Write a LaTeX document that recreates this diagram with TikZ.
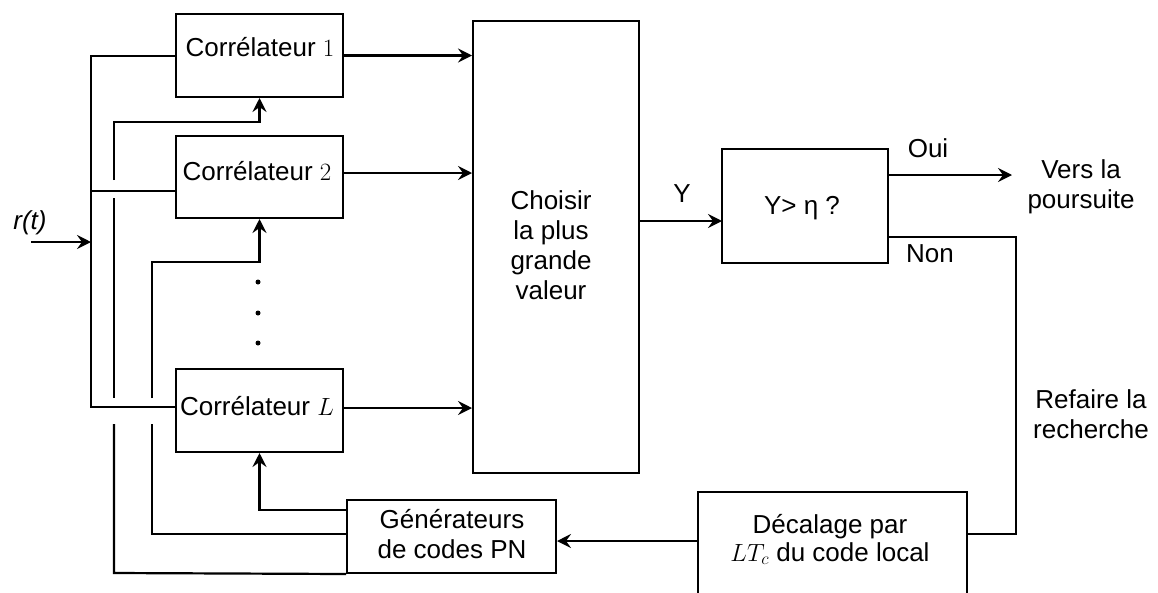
\documentclass[tikz,border=0pt]{standalone}
\usepackage{fontspec}
\setmainfont{Liberation Sans}
\usetikzlibrary{arrows.meta}
\begin{document}
\begin{tikzpicture}[x=1pt, y=-1pt,
  font=\fontsize{26}{30}\selectfont,
  blk/.style={draw, line width=2pt, inner sep=0pt},
  txt/.style={inner sep=0pt, align=center},
  wire/.style={line width=2.2pt},
  arr/.style={wire, -{Stealth[length=14pt, width=14pt, inset=5pt]}},
  dotmark/.style={circle, fill, inner sep=0pt, minimum size=5pt},
]
\useasboundingbox (0,0) rectangle (1158,592);

% blocks
\node[blk, minimum width=167pt, minimum height=83pt] (c1) at (259.5,55.5) {};
\node[blk, minimum width=167pt, minimum height=82pt] (c2) at (259.5,177) {};
\node[blk, minimum width=167pt, minimum height=83pt] (cL) at (259.5,410.5) {};
\node[blk, minimum width=166pt, minimum height=452pt] (ch) at (556,247) {};
\node[blk, minimum width=166pt, minimum height=114pt] (yb) at (805,206) {};
\node[blk, minimum width=209pt, minimum height=73pt] (gen) at (451.5,536.5) {};
\node[blk, minimum width=269pt, minimum height=120pt] (dec) at (832.5,552) {};

% block texts
\node[txt, anchor=base] (c1t) at (260,56) {Corrélateur $1$};
\node[txt, anchor=base] (c2t) at (257,180) {Corrélateur $2$};
\node[txt, anchor=base] (cLt) at (257,415) {Corrélateur $L$};
\node[txt] (cht) at (551,245.5) {Choisir\\la plus\\grande\\valeur};
\node[txt, anchor=base] (ybt) at (802,214) {Y> η ?};
\node[txt] (gent) at (452,534) {Générateurs\\de codes PN};
\node[txt, font=\fontsize{26}{28}\selectfont] (dect) at (830,539.5) {Décalage par\\$LT_c$ du code local};

% dots between correlators
\node[dotmark] (d1) at (258,282) {};
\node[dotmark] (d2) at (258,313) {};
\node[dotmark] (d3) at (258,343) {};

% input signal and distribution bus
\coordinate (rin) at (31,242);
\coordinate (bj) at (91,242);
\coordinate (bt) at (91,56);
\coordinate (b2) at (91,191);
\coordinate (bb) at (91,407);
\node[txt, anchor=base, font=\fontsize{26}{30}\selectfont\itshape] (rt) at (30,229) {r(t)};
\draw[arr] (rin) -- (bj);
\draw[wire] (bt -| c1.west) -- (bt) -- (bb) -- (bb -| cL.west);
\draw[wire] (b2) -- (b2 -| c2.west);

% local code to correlator 1
\coordinate (f1t) at (114,122);
\coordinate (f1g1) at (114,180);
\coordinate (f1g2) at (114,198);
\coordinate (f1g3) at (114,398);
\coordinate (f1g4) at (114,424);
\coordinate (f1b) at (114,573);
\draw[arr] (f1g1) -- (f1t) -| (c1.south);
\draw[wire] (f1g2) -- (f1g3);
\draw[wire] (f1g4) -- (f1b) -- (gen.south west);

% local code to correlator 2
\coordinate (f2t) at (152,262);
\coordinate (f2g3) at (152,398);
\coordinate (f2g4) at (152,424);
\coordinate (f2b) at (152,534);
\draw[arr] (f2g3) -- (f2t) -| (c2.south);
\draw[wire] (gen.west |- f2b) -- (f2b) -- (f2g4);

% local code to correlator L
\coordinate (g1) at (347,510);
\draw[arr] (g1) -| (cL.south);

% correlator outputs
\coordinate (o2) at (343,173);
\coordinate (oL) at (343,408);
\draw[arr] (c1.east) -- (c1.east -| ch.west);
\draw[arr] (o2) -- (o2 -| ch.west);
\draw[arr] (oL) -- (oL -| ch.west);

% decision
\coordinate (yin) at (722,221);
\draw[arr] (yin -| ch.east) -- (yin);
\node[txt, anchor=base] (ylab) at (682,202) {Y};

\coordinate (oui) at (1012,175);
\draw[arr] (oui -| yb.east) -- (oui);
\node[txt, anchor=base] (ouilab) at (928,157) {Oui};
\node[txt] (vers) at (1081,186.4) {Vers la\\poursuite};

\coordinate (nc) at (1016,237);
\coordinate (nd) at (1016,534);
\draw[wire] (nc -| yb.east) -- (nc) -- (nd) -- (nd -| dec.east);
\node[txt, anchor=base] (nonlab) at (930,262) {Non};
\node[txt] (refa) at (1091,413.7) {Refaire la\\recherche};

% shifted code back to the generators
\coordinate (dg) at (698,541);
\draw[arr] (dg) -- (dg -| gen.east);
\end{tikzpicture}
\end{document}
